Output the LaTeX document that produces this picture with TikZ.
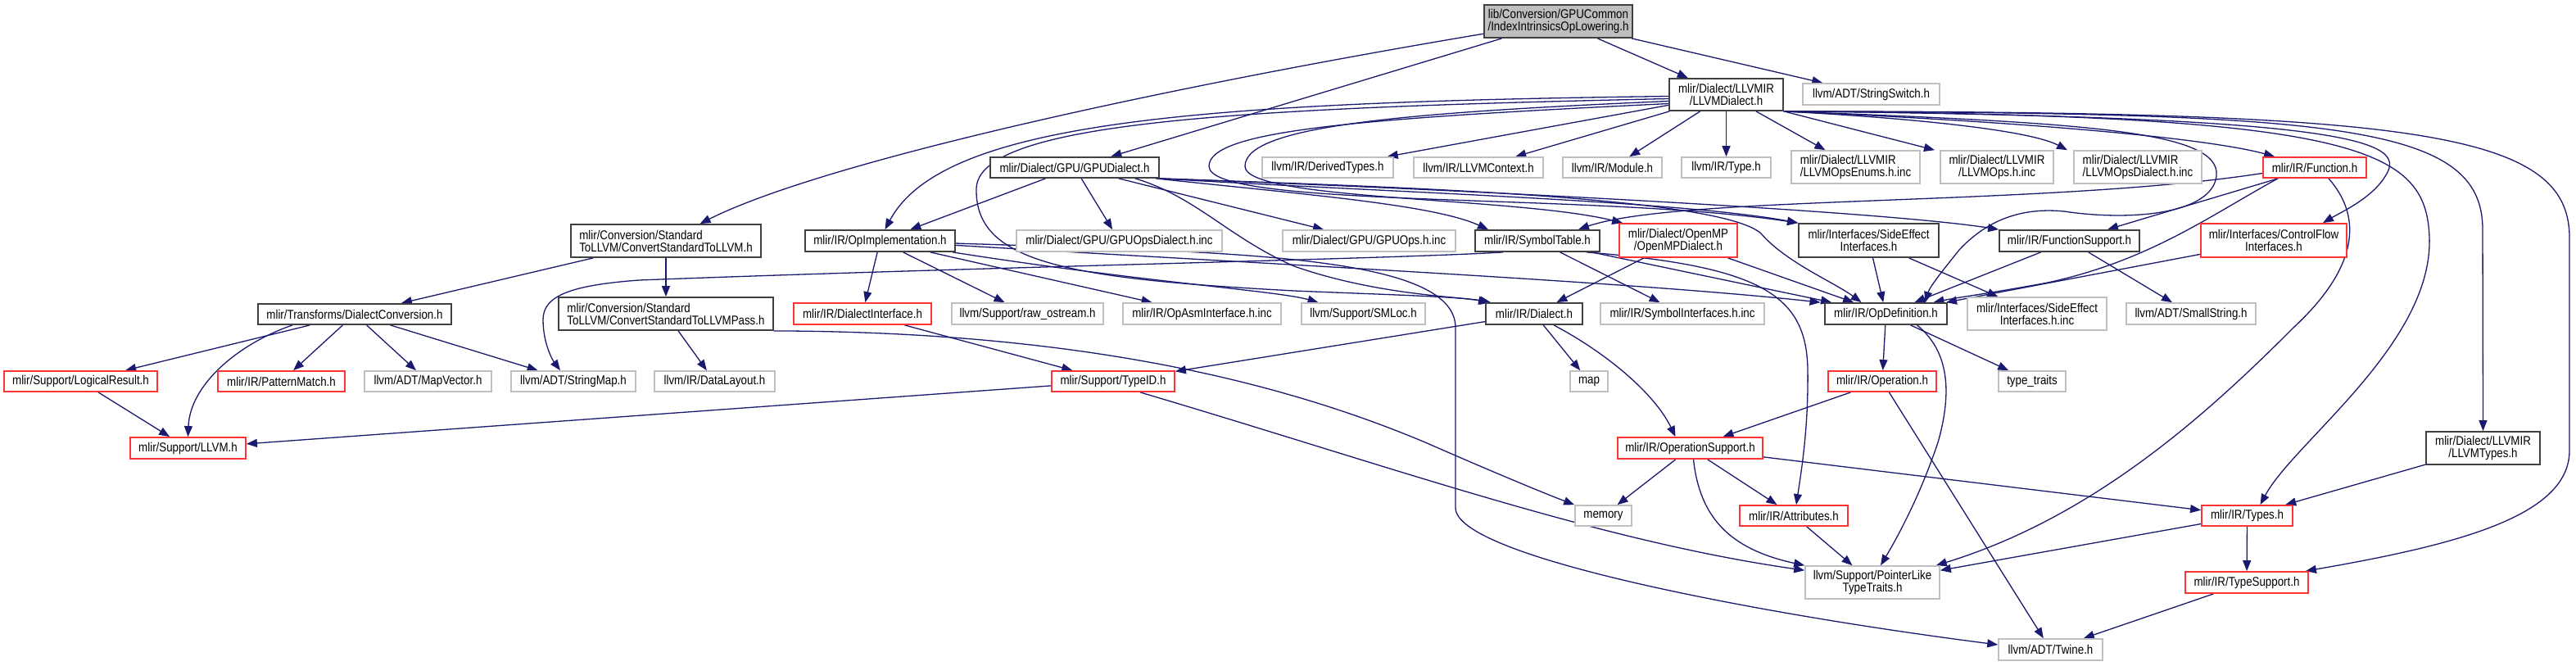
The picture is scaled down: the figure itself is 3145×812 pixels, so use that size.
\documentclass[tikz,border=0pt]{standalone}
\usepackage{fontspec}
\newfontfamily\dox{Liberation Sans}[FakeStretch=0.86]
\usetikzlibrary{arrows.meta}
\definecolor{edgeblue}{HTML}{191970}
\definecolor{nodeblack}{HTML}{404040}
\definecolor{nodegray}{HTML}{BFBFBF}
\definecolor{nodered}{HTML}{FF3333}
\pgfdeclarelayer{bg}
\pgfsetlayers{bg,main}
\begin{document}
\begin{tikzpicture}[x=1pt,y=-1pt,
  bx/.style={draw, line width=1.8pt, fill=white, inner xsep=3pt, inner ysep=0pt, align=center, font=\dox\fontsize{15.5}{15}\selectfont},
  bk/.style={bx, draw=nodeblack},
  rd/.style={bx, draw=nodered},
  gy/.style={bx, draw=nodegray, line width=1.6pt},
  rt/.style={bx, draw=nodeblack, fill=nodegray},
  ed/.style={draw=edgeblue, line width=1.3pt, -{Triangle[length=13pt,width=10pt]}}]
\useasboundingbox (0,0) rectangle (3145,812);
\begin{pgfonlayer}{bg}
\fill[white] (0,0) rectangle (3145,812);
\end{pgfonlayer}
% nodes
\node[rt, minimum width=181pt, minimum height=40pt] (R) at (1902.5,26) {lib/Conversion/GPUCommon\\/IndexIntrinsicsOpLowering.h};
\node[bk, minimum width=139pt, minimum height=39pt] (LD) at (2107.5,115.5) {mlir/Dialect/LLVMIR\\/LLVMDialect.h};
\node[gy, minimum width=167pt, minimum height=26pt] (SS) at (2284.5,115) {llvm/ADT/StringSwitch.h};
\node[bk, minimum width=206pt, minimum height=25pt] (GD) at (1312,204.5) {mlir/Dialect/GPU/GPUDialect.h};
\node[bk, align=left, minimum width=232pt, minimum height=40pt] (S2L) at (813,294) {mlir/Conversion/Standard\\ToLLVM/ConvertStandardToLLVM.h};
\node[gy, minimum width=160pt, minimum height=25pt] (DT) at (1621,204.5) {llvm/IR/DerivedTypes.h};
\node[gy, minimum width=158pt, minimum height=25pt] (LC) at (1805,204.5) {llvm/IR/LLVMContext.h};
\node[gy, minimum width=121pt, minimum height=25pt] (MO) at (1968.5,204.5) {llvm/IR/Module.h};
\node[gy, minimum width=109pt, minimum height=25pt] (TY) at (2107.5,204.5) {llvm/IR/Type.h};
\node[gy, align=left, minimum width=157pt, minimum height=40pt] (OE) at (2265.5,204) {mlir/Dialect/LLVMIR\\/LLVMOpsEnums.h.inc};
\node[gy, minimum width=138pt, minimum height=40pt] (LO) at (2438,204) {mlir/Dialect/LLVMIR\\/LLVMOps.h.inc};
\node[gy, align=left, minimum width=156pt, minimum height=40pt] (OD) at (2610,204) {mlir/Dialect/LLVMIR\\/LLVMOpsDialect.h.inc};
\node[rd, minimum width=126pt, minimum height=25pt] (FN) at (2826,204.5) {mlir/IR/Function.h};
\node[bk, minimum width=183pt, minimum height=26pt] (OI) at (1074.5,294) {mlir/IR/OpImplementation.h};
\node[gy, minimum width=251pt, minimum height=26pt] (GOD) at (1366.5,294) {mlir/Dialect/GPU/GPUOpsDialect.h.inc};
\node[gy, minimum width=211pt, minimum height=26pt] (GO) at (1671.5,294) {mlir/Dialect/GPU/GPUOps.h.inc};
\node[bk, minimum width=152pt, minimum height=26pt] (ST) at (1877,294) {mlir/IR/SymbolTable.h};
\node[rd, minimum width=144pt, minimum height=41pt] (OM) at (2049,293.5) {mlir/Dialect/OpenMP\\/OpenMPDialect.h};
\node[bk, minimum width=171pt, minimum height=41pt] (SE) at (2281.5,293.5) {mlir/Interfaces/SideEffect\\Interfaces.h};
\node[bk, minimum width=171pt, minimum height=26pt] (FS) at (2526.5,294) {mlir/IR/FunctionSupport.h};
\node[rd, minimum width=178pt, minimum height=41pt] (CF) at (2776,293.5) {mlir/Interfaces/ControlFlow\\Interfaces.h};
\node[bk, minimum width=236pt, minimum height=25pt] (DC) at (433,383.5) {mlir/Transforms/DialectConversion.h};
\node[bk, align=left, minimum width=262pt, minimum height=40pt] (SP) at (813,383) {mlir/Conversion/Standard\\ToLLVM/ConvertStandardToLLVMPass.h};
\node[rd, minimum width=168pt, minimum height=26pt] (DI) at (1053,383) {mlir/IR/DialectInterface.h};
\node[gy, minimum width=185pt, minimum height=26pt] (RO) at (1254.5,383) {llvm/Support/raw\_ostream.h};
\node[gy, minimum width=193pt, minimum height=26pt] (OA) at (1467.5,383) {mlir/IR/OpAsmInterface.h.inc};
\node[gy, minimum width=151pt, minimum height=26pt] (SM) at (1664.5,383) {llvm/Support/SMLoc.h};
\node[bk, minimum width=118pt, minimum height=26pt] (DL) at (1873,383) {mlir/IR/Dialect.h};
\node[gy, minimum width=200pt, minimum height=26pt] (SI) at (2054,383) {mlir/IR/SymbolInterfaces.h.inc};
\node[bk, minimum width=149pt, minimum height=26pt] (ODf) at (2302.5,383) {mlir/IR/OpDefinition.h};
\node[gy, minimum width=170pt, minimum height=40pt] (SEI) at (2487,383) {mlir/Interfaces/SideEffect\\Interfaces.h.inc};
\node[gy, minimum width=158pt, minimum height=26pt] (SMS) at (2675,383) {llvm/ADT/SmallString.h};
\node[rd, minimum width=187pt, minimum height=25pt] (LR) at (98.5,465.5) {mlir/Support/LogicalResult.h};
\node[rd, minimum width=155pt, minimum height=25pt] (PM) at (343.5,465.5) {mlir/IR/PatternMatch.h};
\node[gy, minimum width=155pt, minimum height=25pt] (MV) at (522.5,465.5) {llvm/ADT/MapVector.h};
\node[gy, minimum width=152pt, minimum height=25pt] (SMp) at (700,465.5) {llvm/ADT/StringMap.h};
\node[gy, minimum width=147pt, minimum height=25pt] (DLy) at (872.5,465.5) {llvm/IR/DataLayout.h};
\node[rd, minimum width=150pt, minimum height=25pt] (TID) at (1359,465.5) {mlir/Support/TypeID.h};
\node[gy, minimum width=46pt, minimum height=25pt] (MAP) at (1940,465.5) {map};
\node[rd, minimum width=132pt, minimum height=25pt] (OP) at (2298,465.5) {mlir/IR/Operation.h};
\node[gy, minimum width=82pt, minimum height=25pt] (TT) at (2481,465.5) {type\_traits};
\node[rd, minimum width=141pt, minimum height=26pt] (LL) at (229.5,547) {mlir/Support/LLVM.h};
\node[rd, minimum width=177pt, minimum height=26pt] (OS) at (2063.5,547) {mlir/IR/OperationSupport.h};
\node[bk, minimum width=139pt, minimum height=40pt] (LT) at (3031.5,547) {mlir/Dialect/LLVMIR\\/LLVMTypes.h};
\node[gy, minimum width=69pt, minimum height=25pt] (ME) at (1957.5,629.5) {memory};
\node[rd, minimum width=132pt, minimum height=25pt] (AT) at (2190,629.5) {mlir/IR/Attributes.h};
\node[rd, minimum width=111pt, minimum height=25pt] (TS) at (2743.5,629.5) {mlir/IR/Types.h};
\node[gy, minimum width=164pt, minimum height=40pt] (PL) at (2286,711) {llvm/Support/PointerLike\\TypeTraits.h};
\node[rd, minimum width=150pt, minimum height=26pt] (TSp) at (2743,711) {mlir/IR/TypeSupport.h};
\node[gy, minimum width=127pt, minimum height=26pt] (TW) at (2503.5,793) {llvm/ADT/Twine.h};
% edges
\begin{pgfonlayer}{bg}
\draw[ed] (R) .. controls (1400,110) and (1000,200) .. (S2L);
\draw[ed] (R) -- (GD);
\draw[ed] (R) -- (LD);
\draw[ed] (R) -- (SS);
\draw[ed] (LD) -- (DT);
\draw[ed] (LD) -- (LC);
\draw[ed] (LD) -- (MO);
\draw[ed] (LD) -- (TY);
\draw[ed] (LD) -- (OE);
\draw[ed] (LD.south east) -- ([xshift=-76pt]LO.north);
\draw[ed] (LD.south east) .. controls (2350,145) and (2480,160) .. ([xshift=-86pt]OD.north);
\draw[ed] (LD.south east) .. controls (2500,150) and (2700,170) .. (FN);
\draw[ed] (LD.south east) .. controls (2850,142) and (2935,170) .. (2915,210) .. controls (2900,240) and (2860,258) .. ([xshift=60pt]CF.north);
\draw[ed] (LD.south east) .. controls (2880,140) and (2962,180) .. (2966,290) .. controls (2970,420) and (2800,540) .. ([xshift=16pt]TS.north);
\draw[ed] (LD.south east) .. controls (2850,138) and (3031,150) .. (3031,280) -- (LT.north);
\draw[ed] (LD.south east) .. controls (2950,136) and (3137,160) .. (3137,290) -- (3137,550) .. controls (3137,630) and (3000,665) .. ([xshift=-4pt]TSp.north east);
\draw[ed] (LD.south east) .. controls (2550,150) and (2712,160) .. (2706,215) .. controls (2700,262) and (2600,270) .. (2520,258) .. controls (2460,252) and (2420,275) .. (2392,305) .. controls (2372,330) and (2356,350) .. ([xshift=48pt]ODf.north);
\draw[ed] ([yshift=-2pt]LD.west) .. controls (1450,125) and (1150,150) .. ([xshift=6pt]OI.north);
\draw[ed] ([yshift=-5pt]LD.west) .. controls (1500,132) and (1195,150) .. (1192,230) .. controls (1190,320) and (1300,340) .. (1580,355) .. controls (1700,360) and (1780,362) .. ([xshift=-53pt]DL.north);
\draw[ed] ([yshift=-8pt]LD.west) .. controls (1700,138) and (1520,155) .. (1520,203) .. controls (1520,245) and (1850,240) .. ([xshift=5pt]OM.north west);
\draw[ed] ([yshift=-11pt]LD.west) .. controls (1650,145) and (1476,160) .. (1476,203) .. controls (1476,255) and (1950,235) .. (SE.north west);
% GPUDialect
\draw[ed] (GD) -- (OI);
\draw[ed] (GD) -- (GOD);
\draw[ed] (GD) -- (GO);
\draw[ed] ([xshift=-5pt]GD.south east) .. controls (1600,238) and (1750,250) .. ([xshift=-60pt]ST.north);
\draw[ed] ([xshift=-30pt]GD.south east) .. controls (1460,240) and (1500,290) .. (1580,325) .. controls (1680,360) and (1780,362) .. ([xshift=-55pt]DL.north);
\draw[ed] (GD.south east) .. controls (1700,228) and (2100,240) .. (2150,285) .. controls (2180,320) and (2240,345) .. ([xshift=-30pt]ODf.north);
\draw[ed] (GD.south east) .. controls (1700,235) and (2050,245) .. (SE.north west);
\draw[ed] (GD.south east) .. controls (1800,232) and (2300,258) .. (FS.north west);
% Function
\draw[ed] ([yshift=-7pt]FN.west) .. controls (2500,252) and (2050,238) .. ([xshift=50pt]ST.north);
\draw[ed] (FN) -- (FS);
\draw[ed] ([xshift=-45pt]FN.south) .. controls (2700,262) and (2625,318) .. (2500,345) .. controls (2430,358) and (2390,363) .. ([xshift=58pt]ODf.north);
\draw[ed] ([xshift=17pt]FN.south) .. controls (2880,260) and (2886,320) .. (2800,400) .. controls (2700,500) and (2560,630) .. ([xshift=-5pt]PL.north east);
% second level
\draw[ed] (CF) -- (ODf);
\draw[ed] (FS) -- (ODf);
\draw[ed] (FS) -- (SMS);
\draw[ed] (SE) -- (ODf);
\draw[ed] (SE) -- (SEI);
\draw[ed] (ST) -- (ODf);
\draw[ed] (ST) -- (SI);
\draw[ed] ([xshift=60pt]ST.south) .. controls (2150,325) and (2205,360) .. (2207,450) .. controls (2208,520) and (2200,570) .. ([xshift=3pt]AT.north);
\draw[ed] ([xshift=-42pt]ST.south) .. controls (1700,316) and (1200,326) .. (780,342) .. controls (700,348) and (663,360) .. (663,390) .. controls (663,420) and (675,440) .. ([xshift=-16pt]SMp.north);
\draw[ed] (OM) -- (DL);
\draw[ed] (OM) -- (ODf);
\draw[ed] (OI) -- (DI);
\draw[ed] (OI) -- (RO);
\draw[ed] (OI) -- (OA);
\draw[ed] (OI) .. controls (1400,345) and (1560,355) .. ([xshift=-55pt]SM.north);
\draw[ed] (OI) .. controls (1600,325) and (2000,345) .. ([xshift=-80pt]ODf.north);
\draw[ed] (OI) .. controls (1500,308) and (1777,310) .. (1777,400) -- (1777,620) .. controls (1777,680) and (2150,750) .. ([yshift=6pt]TW.west);
\draw[ed] (DI) -- (TID);
\draw[ed] (TID) -- (LL);
\draw[ed] ([xshift=33pt]TID.south) .. controls (1700,570) and (1950,660) .. ([yshift=-6pt]PL.north west);
\draw[ed] (DL) -- (TID);
\draw[ed] (DL) -- (MAP);
\draw[ed] ([xshift=24pt]DL.south) .. controls (1960,430) and (2020,480) .. ([xshift=-18pt]OS.north);
\draw[ed] (ODf) -- (OP);
\draw[ed] (ODf) -- (TT);
\draw[ed] ([xshift=38pt]ODf.south) .. controls (2375,425) and (2386,470) .. (2366,540) .. controls (2346,600) and (2320,650) .. ([xshift=10pt]PL.north);
\draw[ed] (OP) -- (OS);
\draw[ed] (OP) -- (TW);
\draw[ed] (OS) -- (ME);
\draw[ed] (OS) -- (AT);
\draw[ed] ([xshift=4pt]OS.south) .. controls (2075,630) and (2110,670) .. (PL.north west);
\draw[ed] (OS) -- (TS);
\draw[ed] (AT) -- (PL);
\draw[ed] (TS) -- (PL);
\draw[ed] (TS) -- (TSp);
\draw[ed] (TSp) -- (TW);
\draw[ed] (LT) -- (TS);
\draw[ed] (S2L) -- (SP);
\draw[ed] (S2L) -- (DC);
\draw[ed] (SP) -- (DLy);
\draw[ed] (SP.south east) .. controls (1300,405) and (1550,460) .. (1740,540) .. controls (1820,575) and (1880,600) .. (ME.north west);
\draw[ed] (DC) -- (LR);
\draw[ed] ([xshift=-76pt]DC.south) .. controls (290,420) and (232,470) .. (LL.north);
\draw[ed] (DC) -- (PM);
\draw[ed] (DC) -- (MV);
\draw[ed] (DC) -- (SMp);
\draw[ed] (LR) -- (LL);
\end{pgfonlayer}
\end{tikzpicture}
\end{document}
